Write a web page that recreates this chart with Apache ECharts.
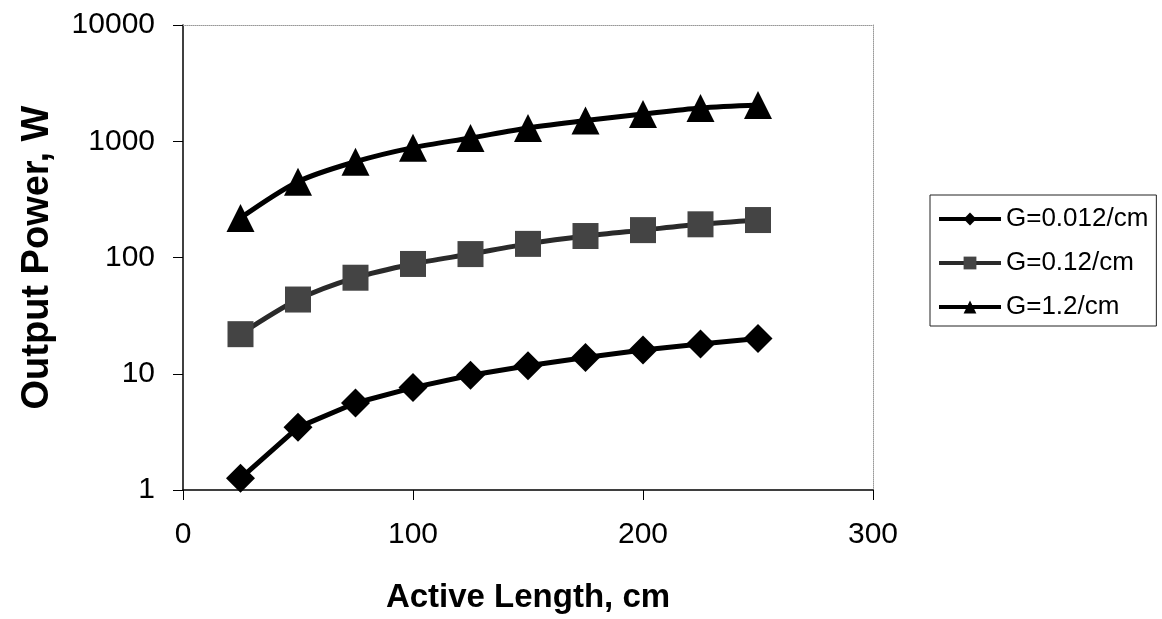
<!DOCTYPE html>
<html>
<head>
<meta charset="utf-8">
<script src="https://cdn.jsdelivr.net/npm/echarts@6/dist/echarts.min.js"></script>
<style>
  html, body { margin: 0; padding: 0; background: #fff; }
  #chart { width: 1162px; height: 619px; }
</style>
</head>
<body>
<div id="chart"></div>
<script>
// active length, cm
const lengths = [25, 50, 75, 100, 125, 150, 175, 200, 225, 250]
// output power, W
const powerG0012 = [1.26, 3.46, 5.6, 7.6, 9.7, 11.7, 13.8, 16.0, 18.0, 20.1]
const powerG012 = [21.9, 43.5, 67, 88, 107, 131, 153, 172, 193, 210]
const powerG12 = [219, 449, 667, 881, 1067, 1300, 1508, 1715, 1932, 2051]

const seriesNames = ['G=0.012/cm', 'G=0.12/cm', 'G=1.2/cm']
const xTicks = [0, 100, 200, 300]

const font = "'Liberation Sans', Arial, sans-serif"
const pairs = vals => lengths.map((x, i) => [x, vals[i]])

const chart = echarts.init(document.getElementById('chart'))

const hiddenAxis = {
  axisLine: { show: true, onZero: false, lineStyle: { color: '#999', width: 1, type: 'dotted' } },
  axisTick: { show: false },
  axisLabel: { show: false },
  splitLine: { show: false }
}

chart.setOption({
  animation: false,
  backgroundColor: '#fff',
  textStyle: { fontFamily: font, color: '#000' },
  grid: { left: 183, right: 289, top: 25, bottom: 128 },
  legend: {
    orient: 'vertical',
    left: 930,
    top: 195,
    padding: [11, 8, 6, 7],
    itemWidth: 62,
    itemHeight: 16,
    itemGap: 18,
    borderColor: '#222',
    borderWidth: 1,
    lineStyle: { width: 4 },
    textStyle: { fontFamily: font, fontSize: 26, color: '#000' },
    data: seriesNames
  },
  xAxis: [{
    type: 'value',
    min: xTicks[0],
    max: xTicks[xTicks.length - 1],
    interval: 100,
    name: 'Active Length, cm',
    nameLocation: 'middle',
    nameGap: 91,
    nameTextStyle: { fontFamily: font, fontSize: 33, fontWeight: 'bold', color: '#000' },
    axisLine: { onZero: false, lineStyle: { color: '#000', width: 1.5 } },
    axisTick: { inside: false, length: 10, lineStyle: { color: '#000' } },
    axisLabel: { fontSize: 30, color: '#000', margin: 30 },
    splitLine: { show: false }
  }, Object.assign({
    type: 'value', position: 'top', min: 0, max: 300
  }, hiddenAxis)],
  yAxis: [{
    type: 'log',
    logBase: 10,
    min: 1,
    max: 10000,
    name: 'Output Power, W',
    nameLocation: 'middle',
    nameGap: 126,
    nameTextStyle: { fontFamily: font, fontSize: 38, fontWeight: 'bold', color: '#000' },
    axisLine: { show: true, onZero: false, lineStyle: { color: '#000', width: 1.5 } },
    axisTick: { show: true, inside: false, length: 10, lineStyle: { color: '#000' } },
    axisLabel: { fontSize: 30, color: '#000', margin: 28, formatter: v => String(Math.round(v)) },
    minorTick: { show: false },
    splitLine: { show: false }
  }, Object.assign({
    type: 'log', position: 'right', logBase: 10, min: 1, max: 10000
  }, hiddenAxis)],
  series: [{
    name: seriesNames[0],
    type: 'line',
    data: pairs(powerG0012),
    symbol: 'diamond',
    symbolSize: 29,
    itemStyle: { color: '#000' },
    lineStyle: { color: '#000', width: 5 }
  }, {
    name: seriesNames[1],
    type: 'line',
    smooth: 0.3,
    data: pairs(powerG012),
    symbol: 'rect',
    symbolSize: 26,
    itemStyle: { color: '#444' },
    lineStyle: { color: '#2a2a2a', width: 5 }
  }, {
    name: seriesNames[2],
    type: 'line',
    smooth: 0.3,
    data: pairs(powerG12),
    symbol: 'triangle',
    symbolSize: 28,
    itemStyle: { color: '#000' },
    lineStyle: { color: '#000', width: 5 }
  }]
})
</script>
</body>
</html>
